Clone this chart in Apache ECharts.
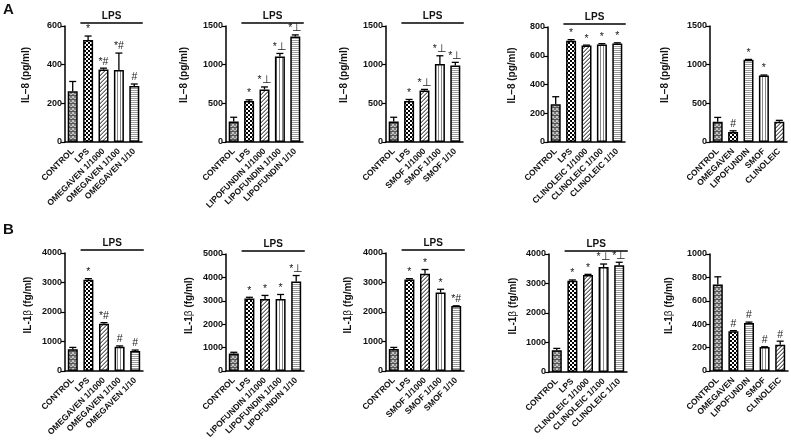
<!DOCTYPE html>
<html><head><meta charset="utf-8">
<script src="https://cdn.jsdelivr.net/npm/echarts@6/dist/echarts.min.js"></script>
<style>html,body{margin:0;padding:0;background:#fff}#c{width:791px;height:444px}</style>
</head><body><div id="c"></div>
<script>
// ---------- DATA ----------
const catsA1 = ['CONTROL','LPS','OMEGAVEN 1/1000','OMEGAVEN 1/100','OMEGAVEN 1/10'];
const catsA2 = ['CONTROL','LPS','LIPOFUNDIN 1/1000','LIPOFUNDIN 1/100','LIPOFUNDIN 1/10'];
const catsA3 = ['CONTROL','LPS','SMOF 1/1000','SMOF 1/100','SMOF 1/10'];
const catsA4 = ['CONTROL','LPS','CLINOLEIC 1/1000','CLINOLEIC 1/100','CLINOLEIC 1/10'];
const catsA5 = ['CONTROL','OMEGAVEN','LIPOFUNDIN','SMOF','CLINOLEIC'];

const il8Omegaven   = [262, 527, 375, 372, 290];
const il8OmegavenErr= [313, 548, 382, 460, 300];
const il8Lipo       = [265, 530, 680, 1105, 1365];
const il8LipoErr    = [320, 545, 712, 1145, 1385];
const il8Smof       = [265, 530, 665, 1010, 990];
const il8SmofErr    = [320, 550, 680, 1115, 1030];
const il8Clino      = [262, 705, 672, 678, 685];
const il8ClinoErr   = [315, 712, 674, 684, 690];
const il8Basal      = [262, 130, 1062, 860, 262];
const il8BasalErr   = [318, 145, 1068, 866, 280];

const il1Omegaven   = [740, 3090, 1600, 820, 680];
const il1OmegavenErr= [800, 3130, 1640, 850, 710];
const il1Lipo       = [750, 3100, 3080, 3080, 3820];
const il1LipoErr    = [800, 3150, 3230, 3270, 4080];
const il1Smof       = [750, 3100, 3300, 2660, 2200];
const il1SmofErr    = [800, 3130, 3440, 2770, 2210];
const il1Clino      = [740, 3090, 3290, 3560, 3620];
const il1ClinoErr   = [800, 3120, 3310, 3660, 3720];
const il1Basal      = [740, 340, 410, 205, 225];
const il1BasalErr   = [805, 345, 418, 207, 255];

const marksA1 = ['', '*', '*#', '*#', '#'];
const marksA2 = ['', '*', '*⊥', '*⊥', '*⊥'];
const marksA3 = ['', '*', '*⊥', '*⊥', '*⊥'];
const marksA4 = ['', '*', '*', '*', '*'];
const marksA5 = ['', '#', '*', '*', ''];
const marksB1 = ['', '*', '*#', '#', '#'];
const marksB2 = ['', '*', '*', '*', '*⊥'];
const marksB3 = ['', '*', '*', '*', '*#'];
const marksB4 = ['', '*', '*', '*⊥', '*⊥'];
const marksB5 = ['', '#', '#', '#', '#'];

const axisMaxA = [600, 1500, 1500, 800, 1500];
const axisIntA = [200, 500, 500, 200, 500];
const axisMaxB = [4000, 5000, 4000, 4000, 1000];
const axisIntB = [1000, 1000, 1000, 1000, 200];

// ---------- PATTERNS ----------
function pat(w, h, draw) {
  const c = document.createElement('canvas'); c.width = w; c.height = h;
  const g = c.getContext('2d'); draw(g);
  return { image: c, repeat: 'repeat' };
}
const P = {
  ctrl: pat(4, 4, g => { g.fillStyle = '#7a7a7a'; g.fillRect(0,0,4,4); g.fillStyle = '#c4c4c4'; g.fillRect(0,0,2,2); g.fillRect(2,2,2,2); g.fillStyle='#555'; g.fillRect(0,3,4,1); }),
  check: pat(4, 4, g => { g.fillStyle = '#000'; g.fillRect(0,0,4,4); g.fillStyle = '#fff'; g.fillRect(0,0,2,2); g.fillRect(2,2,2,2); }),
  diag: pat(4, 4, g => { g.fillStyle = '#fff'; g.fillRect(0,0,4,4); g.fillStyle = '#666'; g.fillRect(0,3,1,1); g.fillRect(1,2,1,1); g.fillRect(2,1,1,1); g.fillRect(3,0,1,1); g.fillStyle='#aaa'; g.fillRect(0,2,1,1); g.fillRect(1,1,1,1); g.fillRect(2,0,1,1); g.fillRect(3,3,1,1); }),
  vert: pat(3, 1, g => { g.fillStyle = '#fff'; g.fillRect(0,0,3,1); g.fillStyle = '#888'; g.fillRect(0,0,1,1); }),
  horiz: pat(1, 2, g => { g.fillStyle = '#fff'; g.fillRect(0,0,1,2); g.fillStyle = '#999'; g.fillRect(0,0,1,1); })
};
const patsLPS = [P.ctrl, P.check, P.diag, P.vert, P.horiz];
const patsBasal = [P.ctrl, P.check, P.horiz, P.vert, P.diag];

// ---------- PANELS ----------
const FF = '"Liberation Sans", Arial, sans-serif';
const nameA = 'IL–8 (pg/ml)';
const nameB = '{b|IL-1}{t|β}{b| (fg/ml)}';
const panels = [
  {cats: catsA1, vals: il8Omegaven, errs: il8OmegavenErr, marks: marksA1, max: axisMaxA[0], int: axisIntA[0], lps: true, pats: patsLPS, name: nameA, grid: {left: 65, top: 26, width: 77, height: 116}, gap: 34, pad: 18},
  {cats: catsA2, vals: il8Lipo, errs: il8LipoErr, marks: marksA2, max: axisMaxA[1], int: axisIntA[1], lps: true, pats: patsLPS, name: nameA, grid: {left: 226, top: 26, width: 77, height: 116}, gap: 37, pad: 18},
  {cats: catsA3, vals: il8Smof, errs: il8SmofErr, marks: marksA3, max: axisMaxA[2], int: axisIntA[2], lps: true, pats: patsLPS, name: nameA, grid: {left: 386, top: 26, width: 77, height: 116}, gap: 37, pad: 18},
  {cats: catsA4, vals: il8Clino, errs: il8ClinoErr, marks: marksA4, max: axisMaxA[3], int: axisIntA[3], lps: true, pats: patsLPS, name: nameA, grid: {left: 548, top: 27, width: 77, height: 115}, gap: 31, pad: 18},
  {cats: catsA5, vals: il8Basal, errs: il8BasalErr, marks: marksA5, max: axisMaxA[4], int: axisIntA[4], lps: false, pats: patsBasal, name: nameA, grid: {left: 710, top: 26, width: 77, height: 116}, gap: 40, pad: 18},
  {cats: catsA1, vals: il1Omegaven, errs: il1OmegavenErr, marks: marksB1, max: axisMaxB[0], int: axisIntB[0], lps: true, pats: patsLPS, name: nameB, grid: {left: 65, top: 253, width: 78, height: 118}, gap: 32, pad: 14},
  {cats: catsA2, vals: il1Lipo, errs: il1LipoErr, marks: marksB2, max: axisMaxB[1], int: axisIntB[1], lps: true, pats: patsLPS, name: nameB, grid: {left: 226, top: 254, width: 78, height: 117}, gap: 32, pad: 14},
  {cats: catsA3, vals: il1Smof, errs: il1SmofErr, marks: marksB3, max: axisMaxB[2], int: axisIntB[2], lps: true, pats: patsLPS, name: nameB, grid: {left: 386, top: 253, width: 78, height: 118}, gap: 33, pad: 14},
  {cats: catsA4, vals: il1Clino, errs: il1ClinoErr, marks: marksB4, max: axisMaxB[3], int: axisIntB[3], lps: true, pats: patsLPS, name: nameB, grid: {left: 549, top: 254, width: 78, height: 118}, gap: 31, pad: 14},
  {cats: catsA5, vals: il1Basal, errs: il1BasalErr, marks: marksB5, max: axisMaxB[4], int: axisIntB[4], lps: false, pats: patsBasal, name: nameB, grid: {left: 710, top: 254, width: 78, height: 117}, gap: 36, pad: 14}
];

const grid = [], xAxis = [], yAxis = [], series = [];
panels.forEach((p, k) => {
  grid.push(p.grid);
  xAxis.push({
    type: 'category', gridIndex: k, data: p.cats,
    axisLine: {lineStyle: {color: '#000', width: 1.5}},
    axisTick: {alignWithLabel: true, length: 4, lineStyle: {color: '#000', width: 1.2}},
    axisLabel: {interval: 0, rotate: 45, margin: 8, fontSize: 8.5, fontWeight: 'bold', color: '#111', fontFamily: FF}
  });
  yAxis.push({
    type: 'value', gridIndex: k, min: 0, max: p.max, interval: p.int,
    name: p.name, nameLocation: 'middle', nameGap: p.gap, nameRotate: 90,
    nameTextStyle: {fontSize: 10, fontWeight: 'bold', color: '#111', fontFamily: FF, padding: [0, 0, 0, p.pad],
      rich: {b: {fontSize: 10, fontWeight: 'bold', color: '#111', fontFamily: FF}, t: {fontSize: 10, fontWeight: 'normal', color: '#111', fontFamily: FF}}},
    axisLine: {show: true, lineStyle: {color: '#000', width: 1.5}},
    axisTick: {show: true, length: 4, lineStyle: {color: '#000', width: 1.2}},
    splitLine: {show: false},
    axisLabel: {fontSize: 9, fontWeight: 'bold', color: '#111', fontFamily: FF, margin: 3, formatter: v => String(v)}
  });
  series.push({
    type: 'bar', xAxisIndex: k, yAxisIndex: k, barWidth: 10,
    data: p.vals.map((v, i) => ({value: v, itemStyle: {color: p.pats[i], borderColor: '#000', borderWidth: 1.5}})),
    silent: true, z: 2
  });
  series.push({
    type: 'custom', xAxisIndex: k, yAxisIndex: k, z: 3, silent: true,
    data: p.vals.map((v, i) => [i, v, p.errs[i]]),
    renderItem: (params, api) => {
      const i = params.dataIndex;
      const b = api.coord([api.value(0), api.value(1)]);
      const t = api.coord([api.value(0), api.value(2)]);
      return {type: 'group', children: [
        {type: 'line', shape: {x1: b[0], y1: b[1], x2: t[0], y2: t[1]}, style: {stroke: '#000', lineWidth: 1.3}},
        {type: 'line', shape: {x1: t[0] - 3.5, y1: t[1], x2: t[0] + 3.5, y2: t[1]}, style: {stroke: '#000', lineWidth: 1.3}},
        {type: 'text', x: t[0], y: t[1] - 1, style: {text: p.marks[i], textAlign: 'center', textVerticalAlign: 'bottom', fontSize: 10.5, fill: '#222', fontFamily: FF}}
      ]};
    }
  });
  if (p.lps) {
    series.push({
      type: 'custom', xAxisIndex: k, yAxisIndex: k, z: 3, silent: true, clip: false,
      data: [[1, p.max]],
      renderItem: (params, api) => {
        const a = api.coord([1, api.value(1)]);
        const e = api.coord([4, api.value(1)]);
        const bw = api.size([1, 0])[0];
        const y = a[1] - 3;
        const x1 = a[0] - bw * 0.5, x2 = e[0] + bw * 0.55;
        return {type: 'group', children: [
          {type: 'line', shape: {x1: x1, y1: y, x2: x2, y2: y}, style: {stroke: '#000', lineWidth: 1.3}},
          {type: 'text', x: (x1 + x2) / 2, y: y - 1.5, style: {text: 'LPS', textAlign: 'center', textVerticalAlign: 'bottom', fontSize: 10, fontWeight: 'bold', fill: '#111', fontFamily: FF}}
        ]};
      }
    });
  }
});

const chart = echarts.init(document.getElementById('c'), null, {renderer: 'canvas'});
chart.setOption({
  animation: false,
  backgroundColor: '#fff',
  grid, xAxis, yAxis, series,
  graphic: [
    {type: 'text', left: 3, top: 2, style: {text: 'A', fontSize: 15, fontWeight: 'bold', fill: '#111', fontFamily: FF}},
    {type: 'text', left: 3, top: 222, style: {text: 'B', fontSize: 15, fontWeight: 'bold', fill: '#111', fontFamily: FF}}
  ]
});
</script></body></html>
